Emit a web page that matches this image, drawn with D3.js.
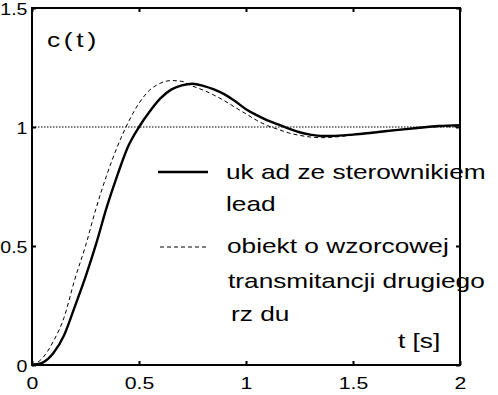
<!DOCTYPE html>
<html>
<head>
<meta charset="utf-8">
<script src="https://cdn.jsdelivr.net/npm/d3@7"></script>
<style>
  body { margin: 0; background: #fff; }
  text { font-family: "Liberation Sans", Arial, Helvetica, sans-serif; fill: #000; }
</style>
</head>
<body>
<div class="chart"></div>
<script>
// time samples [s]
const times = [0, 0.05, 0.1, 0.15, 0.2, 0.25, 0.3, 0.35, 0.4, 0.45, 0.5, 0.55, 0.6, 0.65,
  0.7, 0.75, 0.8, 0.85, 0.9, 0.95, 1.0, 1.05, 1.1, 1.15, 1.2, 1.25, 1.3, 1.35, 1.4,
  1.45, 1.5, 1.6, 1.7, 1.8, 1.9, 2.0];
// uklad ze sterownikiem lead (solid)
const leadResp = [0, 0.01, 0.05, 0.125, 0.245, 0.37, 0.51, 0.665, 0.8, 0.92, 1.0, 1.065, 1.12, 1.157,
  1.175, 1.182, 1.173, 1.158, 1.137, 1.108, 1.075, 1.05, 1.028, 1.011, 0.993, 0.978, 0.968, 0.962, 0.962,
  0.965, 0.968, 0.977, 0.987, 0.996, 1.004, 1.008];
// obiekt o wzorcowej transmitancji (dashed)
const refResp = [0, 0.03, 0.1, 0.2, 0.36, 0.5, 0.66, 0.8, 0.92, 1.02, 1.1, 1.155, 1.184, 1.195,
  1.192, 1.172, 1.155, 1.134, 1.11, 1.082, 1.055, 1.028, 1.006, 0.99, 0.975, 0.965, 0.958, 0.955, 0.957,
  0.961, 0.967, 0.979, 0.988, 0.995, 1.001, 1.001];

const xTicks = [0, 0.5, 1, 1.5, 2];
const yTicks = [0, 0.5, 1, 1.5];
const legendLines = [
  ["uk ad ze sterownikiem", "lead"],
  ["obiekt o wzorcowej", "transmitancji drugiego", "rz du"]
];

const W = 498, H = 395;
const margin = { top: 8, right: 38, bottom: 30, left: 32 };
const SX = 1.25; // horizontal stretch of the text

const svg = d3.select(".chart").append("svg")
  .attr("width", W).attr("height", H)
  .style("display", "block");
svg.append("rect").attr("width", W).attr("height", H).attr("fill", "#fff");

const xScale = d3.scaleLinear().domain([0, 2]).range([margin.left, W - margin.right]);
const yScale = d3.scaleLinear().domain([0, 1.5]).range([H - margin.bottom, margin.top]);

const fmt = (d) => (d === 0 ? "0" : d3.format("")(d));

// axes with inward ticks
function styleAxis(g) {
  g.select(".domain").remove();
  g.selectAll("line").attr("stroke", "#000").attr("stroke-width", 2);
  g.selectAll("text")
    .style("font-size", "17px")
    .attr("fill", "#000");
}

svg.append("g")
  .attr("transform", `translate(0,${H - margin.bottom})`)
  .call(d3.axisBottom(xScale).tickValues(xTicks).tickFormat(fmt).tickSizeInner(-4).tickSizeOuter(0).tickPadding(12))
  .call(styleAxis)
  .selectAll("text").attr("transform", `scale(${SX},1)`);

svg.append("g")
  .attr("transform", `translate(${margin.left},0)`)
  .call(d3.axisLeft(yScale).tickValues(yTicks).tickFormat(fmt).tickSizeInner(-4).tickSizeOuter(0).tickPadding(4))
  .call(styleAxis)
  .selectAll("text").attr("transform", "scale(1.15,1)").attr("dy", "0.4em");

svg.append("g")
  .attr("transform", `translate(0,${margin.top})`)
  .call(d3.axisTop(xScale).tickValues(xTicks).tickFormat("").tickSizeInner(-4).tickSizeOuter(0))
  .call(styleAxis);

svg.append("g")
  .attr("transform", `translate(${W - margin.right},0)`)
  .call(d3.axisRight(yScale).tickValues(yTicks).tickFormat("").tickSizeInner(-4).tickSizeOuter(0))
  .call(styleAxis);

// reference line at 1
svg.append("line")
  .attr("x1", xScale(0)).attr("x2", xScale(2))
  .attr("y1", yScale(1)).attr("y2", yScale(1))
  .attr("stroke", "#000").attr("stroke-width", 1)
  .attr("stroke-dasharray", "1.5,1.5");

const line = d3.line()
  .x((d) => xScale(d[0]))
  .y((d) => yScale(d[1]))
  .curve(d3.curveMonotoneX);

svg.append("path")
  .datum(times.map((t, i) => [t, refResp[i]]))
  .attr("d", line)
  .attr("fill", "none").attr("stroke", "#000").attr("stroke-width", 1)
  .attr("stroke-dasharray", "4,3");

svg.append("path")
  .datum(times.map((t, i) => [t, leadResp[i]]))
  .attr("d", line)
  .attr("fill", "none").attr("stroke", "#000").attr("stroke-width", 2.4);

// frame
svg.append("rect")
  .attr("x", xScale(0)).attr("y", yScale(1.5))
  .attr("width", xScale(2) - xScale(0)).attr("height", yScale(0) - yScale(1.5))
  .attr("fill", "none").attr("stroke", "#000").attr("stroke-width", 2);

function label(x, y, str, size, spacing) {
  svg.append("text")
    .attr("transform", `translate(${x},${y}) scale(${SX},1)`)
    .style("font-size", size + "px")
    .style("letter-spacing", (spacing || 0) + "px")
    .text(str);
}

label(47, 47, "c(t)", 21, 3);
label(398, 348, "t [s]", 21);

// legend
svg.append("line")
  .attr("x1", 158).attr("x2", 208).attr("y1", 172).attr("y2", 172)
  .attr("stroke", "#000").attr("stroke-width", 2.4);
svg.append("line")
  .attr("x1", 160).attr("x2", 208).attr("y1", 247).attr("y2", 247)
  .attr("stroke", "#000").attr("stroke-width", 1).attr("stroke-dasharray", "4,3");

const legendX = [[226, 226], [227, 228, 231]];
const legendY = [[179, 211], [253, 288, 321]];
legendLines.forEach((lines, i) => {
  lines.forEach((s, j) => label(legendX[i][j], legendY[i][j], s, 21));
});
</script>
</body>
</html>
